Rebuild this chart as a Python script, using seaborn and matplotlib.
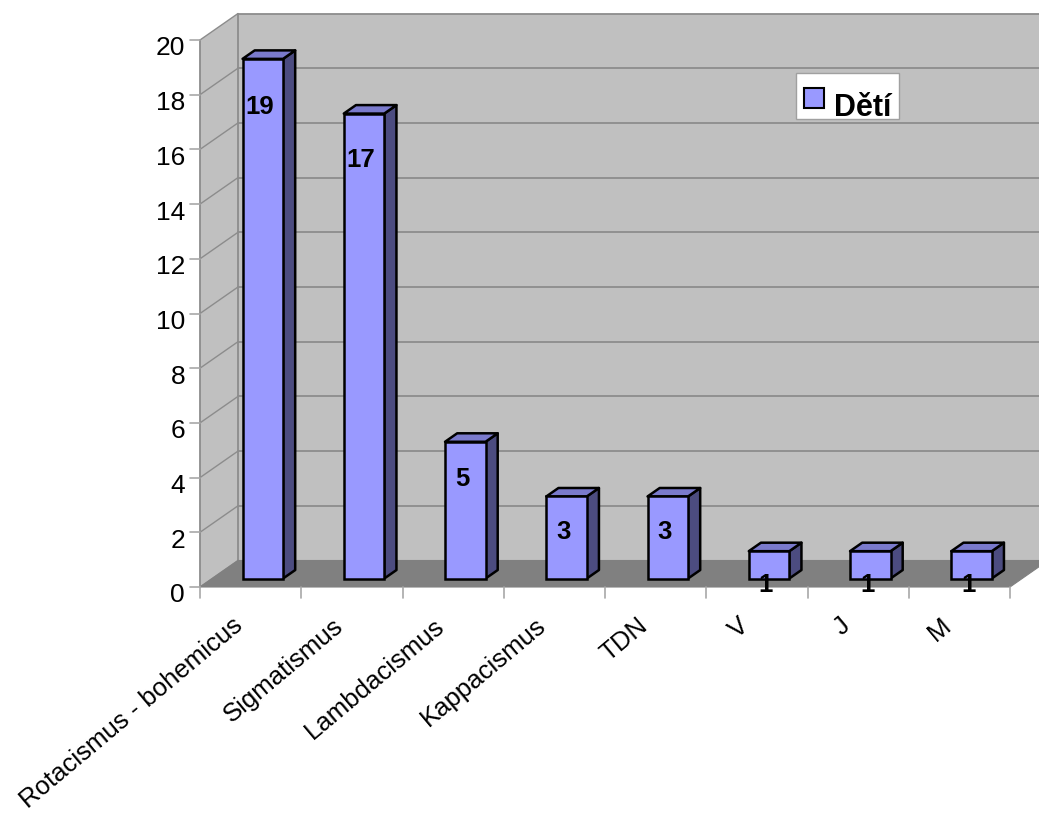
import numpy as np
import matplotlib
matplotlib.use("Agg")
import matplotlib.pyplot as plt
from matplotlib.patches import Polygon, Rectangle
import seaborn as sns

# Data
categories = ["Rotacismus - bohemicus", "Sigmatismus", "Lambdacismus", "Kappacismus",
              "TDN", "V", "J", "M"]
counts = [19, 17, 5, 3, 3, 1, 1, 1]
y_ticks = [0, 2, 4, 6, 8, 10, 12, 14, 16, 18, 20]
series_name = "Dětí"

# Styling
BAR_FRONT = "#9999ff"
BAR_TOP = "#7a7acc"
BAR_SIDE = "#4c4c80"
WALL = "#c0c0c0"
FLOOR = "#808080"
GRID = "#8c8c8c"
TICK = "#a8a8a8"
DEPTH_PX = np.array([38.0, 26.5])      # oblique depth of the chart box, in pixels
BAR_START, BAR_END = 0.32, 0.64         # bar slab position inside the depth
LABEL_SCALE, LABEL_DROP = 0.97, 1.2     # value labels sit a little below the bar top
FS_AXIS, FS_CAT, FS_VALUE, FS_LEGEND = 19, 18.5, 18.5, 22
LABEL_ROT = 40

sns.set_theme(style="white")
plt.rcParams["font.family"] = ["Liberation Sans", "DejaVu Sans"]

W, H, DPI = 1039, 818, 100
fig = plt.figure(figsize=(W / DPI, H / DPI), dpi=DPI)
fig.patch.set_facecolor("white")

# Axes = front plane of the 3D box
ax = fig.add_axes([200 / W, 1 - 587 / H, 810 / W, 547 / H])
sns.barplot(x=categories, y=counts, color=BAR_FRONT, saturation=1, width=0.4,
            edgecolor="black", linewidth=1.8, ax=ax, zorder=6)
bars = list(ax.patches)
n = len(categories)
x_lo, x_hi = -0.5, n - 0.5
y_lo, y_hi = 0, 20
ax.set_xlim(x_lo, x_hi)
ax.set_ylim(y_lo, y_hi)
ax.set_axis_off()

# pixel -> data conversion
ppu = ax.transData.transform([1, 1]) - ax.transData.transform([0, 0])
def px(dx, dy):
    return np.array([dx / ppu[0], dy / ppu[1]])

depth = px(*DEPTH_PX)
dx, dy = depth

def poly(pts, **kw):
    p = Polygon(pts, closed=True, clip_on=False, **kw)
    ax.add_patch(p)
    return p

# Back wall
poly([(x_lo + dx, y_lo + dy), (x_hi + dx, y_lo + dy), (x_hi + dx, y_hi + dy), (x_lo + dx, y_hi + dy)],
     facecolor=WALL, edgecolor="none", zorder=0)
# Left wall
poly([(x_lo, y_lo), (x_lo + dx, y_lo + dy), (x_lo + dx, y_hi + dy), (x_lo, y_hi)],
     facecolor=WALL, edgecolor="none", zorder=0)

# Grid lines on back and left walls
for yt in y_ticks:
    ax.plot([x_lo + dx, x_hi + dx], [yt + dy, yt + dy], color=GRID, lw=1.3, zorder=1, clip_on=False)
    ax.plot([x_lo, x_lo + dx], [yt, yt + dy], color=GRID, lw=1.0, zorder=1, clip_on=False)
ax.plot([x_lo + dx, x_lo + dx], [y_lo + dy, y_hi + dy], color=GRID, lw=1.3, zorder=1, clip_on=False)
ax.plot([x_lo, x_lo], [y_lo, y_hi], color=GRID, lw=1.3, zorder=1, clip_on=False)

# Floor
poly([(x_lo, y_lo), (x_hi, y_lo), (x_hi + dx, y_lo + dy), (x_lo + dx, y_lo + dy)],
     facecolor=FLOOR, edgecolor=FLOOR, lw=0.8, zorder=2)

# Tick marks and value-axis labels
tl = px(10, 11)
for yt in y_ticks:
    ax.plot([x_lo - tl[0], x_lo], [yt, yt], color=TICK, lw=1.2, clip_on=False, zorder=2)
    ax.text(x_lo - px(15, 0)[0], yt - px(0, 15.5)[1], str(yt), ha="right", va="baseline",
            fontsize=FS_AXIS, color="black", clip_on=False)
for xb in np.arange(x_lo, x_hi + 0.01, 1.0):
    ax.plot([xb, xb], [y_lo, y_lo - tl[1]], color=TICK, lw=1.2, clip_on=False, zorder=2)

# Category labels
lab_off = px(-7, -41)
for i, c in enumerate(categories):
    ax.text(i + lab_off[0], y_lo + lab_off[1], c, rotation=LABEL_ROT, rotation_mode="anchor",
            ha="right", va="baseline", fontsize=FS_CAT, color="black", clip_on=False)

# Bars: move front faces into the slab and add top / side faces
s0 = depth * BAR_START
bd = depth * (BAR_END - BAR_START)
for bar, v in zip(bars, counts):
    bar.set_x(bar.get_x() + s0[0])
    bar.set_y(bar.get_y() + s0[1])
    bar.set_clip_on(False)
    x0 = bar.get_x()
    x1 = x0 + bar.get_width()
    b0 = bar.get_y()
    t0 = b0 + bar.get_height()
    poly([(x1, b0), (x1 + bd[0], b0 + bd[1]), (x1 + bd[0], t0 + bd[1]), (x1, t0)],
         facecolor=BAR_SIDE, edgecolor="black", lw=1.8, joinstyle="round", zorder=5)
    poly([(x0, t0), (x1, t0), (x1 + bd[0], t0 + bd[1]), (x0 + bd[0], t0 + bd[1])],
         facecolor=BAR_TOP, edgecolor="black", lw=1.8, joinstyle="round", zorder=5)
    ax.text((x0 + x1) / 2 - px(3, 0)[0], s0[1] + LABEL_SCALE * v - LABEL_DROP, str(v),
            ha="center", va="center", fontsize=FS_VALUE, fontweight="bold", color="black",
            zorder=8, clip_on=False)

# Legend
def fx(x):
    return x / W
def fy(y):
    return 1 - y / H
fig.patches.append(Rectangle((fx(796), fy(119)), fx(899) - fx(796), fy(73) - fy(119),
                             transform=fig.transFigure, facecolor="white", edgecolor="#a0a0a0",
                             lw=1.0, zorder=10))
fig.patches.append(Rectangle((fx(804), fy(108)), fx(824) - fx(804), fy(88) - fy(108),
                             transform=fig.transFigure, facecolor=BAR_FRONT, edgecolor="black",
                             lw=1.5, zorder=11))
fig.text(fx(834), fy(116), series_name, ha="left", va="baseline", fontsize=FS_LEGEND,
         fontweight="bold", color="black", zorder=12)

fig.savefig("out.png", dpi=DPI)
